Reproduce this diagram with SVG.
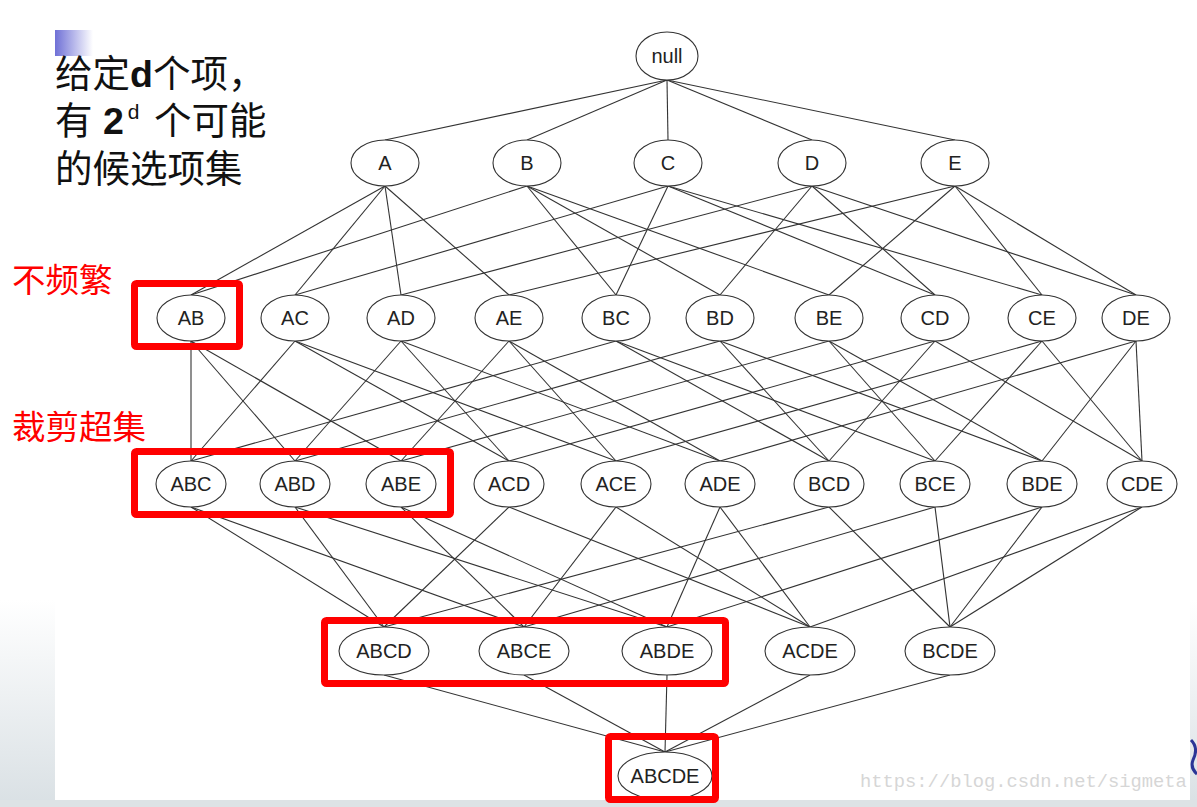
<svg xmlns="http://www.w3.org/2000/svg" width="1197" height="807" viewBox="0 0 1197 807">
<style>
.n ellipse{fill:#fff;stroke:#333;stroke-width:1.1}
.n text{font-family:"Liberation Sans",Arial,sans-serif;font-size:20px;fill:#222;text-anchor:middle;dominant-baseline:central}
#edges line{stroke:#333;stroke-width:1.1}
.box{fill:none;stroke:#ff0000;stroke-width:7;stroke-linejoin:round}
.red{font-family:"Liberation Sans","Noto Sans CJK SC",sans-serif;font-size:33.5px;fill:#ff0000}
.blk{font-family:"Liberation Sans","Noto Sans CJK SC",sans-serif;font-size:37.5px;fill:#111}
</style>
<defs>
<linearGradient id="gl" x1="0" y1="0" x2="0" y2="1"><stop offset="0" stop-color="#ffffff"/><stop offset="1" stop-color="#d9e0e4"/></linearGradient>
<linearGradient id="gb" x1="0" y1="0" x2="1" y2="0"><stop offset="0" stop-color="#6f70d6"/><stop offset="1" stop-color="#ffffff"/></linearGradient>
</defs>
<rect width="1197" height="807" fill="#fff"/>
<rect x="0" y="600" width="55" height="207" fill="url(#gl)"/>
<rect x="1190" y="600" width="7" height="207" fill="url(#gl)"/>
<rect x="0" y="800" width="1197" height="7" fill="#dde2e5"/>
<path d="M1191 740 Q1199 748 1193 760 Q1190 768 1197 774" fill="none" stroke="#2b3596" stroke-width="3"/>
<rect x="55" y="30" width="38" height="26" fill="url(#gb)"/>
<text class="blk" y="87"><tspan x="55">给定</tspan><tspan font-weight="bold">d</tspan><tspan>个项，</tspan></text>
<text class="blk" y="134"><tspan x="55">有 </tspan><tspan font-weight="bold">2</tspan><tspan font-size="21" dy="-15" dx="4">d</tspan><tspan x="154" dy="15">个可能</tspan></text>
<text class="blk" y="182" x="55">的候选项集</text>
<text class="red" x="12" y="292">不频繁</text>
<text class="red" x="12" y="439">裁剪超集</text>
<g id="edges">
<line x1="667" y1="80" x2="385" y2="140"/><line x1="667" y1="80" x2="527" y2="140"/><line x1="667" y1="80" x2="668" y2="140"/><line x1="667" y1="80" x2="812" y2="140"/><line x1="667" y1="80" x2="955" y2="140"/>
<line x1="385" y1="186" x2="191" y2="295"/><line x1="385" y1="186" x2="295" y2="295"/><line x1="385" y1="186" x2="401" y2="295"/><line x1="385" y1="186" x2="509" y2="295"/>
<line x1="527" y1="186" x2="191" y2="295"/><line x1="527" y1="186" x2="616" y2="295"/><line x1="527" y1="186" x2="720" y2="295"/><line x1="527" y1="186" x2="829" y2="295"/>
<line x1="668" y1="186" x2="295" y2="295"/><line x1="668" y1="186" x2="616" y2="295"/><line x1="668" y1="186" x2="935" y2="295"/><line x1="668" y1="186" x2="1042" y2="295"/>
<line x1="812" y1="186" x2="401" y2="295"/><line x1="812" y1="186" x2="720" y2="295"/><line x1="812" y1="186" x2="935" y2="295"/><line x1="812" y1="186" x2="1136" y2="295"/>
<line x1="955" y1="186" x2="509" y2="295"/><line x1="955" y1="186" x2="829" y2="295"/><line x1="955" y1="186" x2="1042" y2="295"/><line x1="955" y1="186" x2="1136" y2="295"/>
<line x1="191" y1="341" x2="191" y2="461"/><line x1="191" y1="341" x2="295" y2="461"/><line x1="191" y1="341" x2="401" y2="461"/>
<line x1="295" y1="341" x2="191" y2="461"/><line x1="295" y1="341" x2="509" y2="461"/><line x1="295" y1="341" x2="616" y2="461"/>
<line x1="401" y1="341" x2="295" y2="461"/><line x1="401" y1="341" x2="509" y2="461"/><line x1="401" y1="341" x2="720" y2="461"/>
<line x1="509" y1="341" x2="401" y2="461"/><line x1="509" y1="341" x2="616" y2="461"/><line x1="509" y1="341" x2="720" y2="461"/>
<line x1="616" y1="341" x2="191" y2="461"/><line x1="616" y1="341" x2="829" y2="461"/><line x1="616" y1="341" x2="935" y2="461"/>
<line x1="720" y1="341" x2="295" y2="461"/><line x1="720" y1="341" x2="829" y2="461"/><line x1="720" y1="341" x2="1042" y2="461"/>
<line x1="829" y1="341" x2="401" y2="461"/><line x1="829" y1="341" x2="935" y2="461"/><line x1="829" y1="341" x2="1042" y2="461"/>
<line x1="935" y1="341" x2="509" y2="461"/><line x1="935" y1="341" x2="829" y2="461"/><line x1="935" y1="341" x2="1142" y2="461"/>
<line x1="1042" y1="341" x2="616" y2="461"/><line x1="1042" y1="341" x2="935" y2="461"/><line x1="1042" y1="341" x2="1142" y2="461"/>
<line x1="1136" y1="341" x2="720" y2="461"/><line x1="1136" y1="341" x2="1042" y2="461"/><line x1="1136" y1="341" x2="1142" y2="461"/>
<line x1="191" y1="507" x2="384" y2="627"/><line x1="191" y1="507" x2="524" y2="627"/>
<line x1="295" y1="507" x2="384" y2="627"/><line x1="295" y1="507" x2="667" y2="627"/>
<line x1="401" y1="507" x2="524" y2="627"/><line x1="401" y1="507" x2="667" y2="627"/>
<line x1="509" y1="507" x2="384" y2="627"/><line x1="509" y1="507" x2="810" y2="627"/>
<line x1="616" y1="507" x2="524" y2="627"/><line x1="616" y1="507" x2="810" y2="627"/>
<line x1="720" y1="507" x2="667" y2="627"/><line x1="720" y1="507" x2="810" y2="627"/>
<line x1="829" y1="507" x2="384" y2="627"/><line x1="829" y1="507" x2="950" y2="627"/>
<line x1="935" y1="507" x2="524" y2="627"/><line x1="935" y1="507" x2="950" y2="627"/>
<line x1="1042" y1="507" x2="667" y2="627"/><line x1="1042" y1="507" x2="950" y2="627"/>
<line x1="1142" y1="507" x2="810" y2="627"/><line x1="1142" y1="507" x2="950" y2="627"/>
<line x1="384" y1="675" x2="665" y2="752"/><line x1="524" y1="675" x2="665" y2="752"/><line x1="667" y1="675" x2="665" y2="752"/><line x1="810" y1="675" x2="665" y2="752"/><line x1="950" y1="675" x2="665" y2="752"/>
</g>
<g id="null" class="n"><ellipse cx="667" cy="56" rx="31" ry="24"/><text x="667" y="56">null</text></g>
<g id="A" class="n"><ellipse cx="385" cy="163" rx="34" ry="23"/><text x="385" y="163">A</text></g>
<g id="B" class="n"><ellipse cx="527" cy="163" rx="34" ry="23"/><text x="527" y="163">B</text></g>
<g id="C" class="n"><ellipse cx="668" cy="163" rx="34" ry="23"/><text x="668" y="163">C</text></g>
<g id="D" class="n"><ellipse cx="812" cy="163" rx="34" ry="23"/><text x="812" y="163">D</text></g>
<g id="E" class="n"><ellipse cx="955" cy="163" rx="34" ry="23"/><text x="955" y="163">E</text></g>
<g id="AB" class="n"><ellipse cx="191" cy="318" rx="34" ry="23"/><text x="191" y="318">AB</text></g>
<g id="AC" class="n"><ellipse cx="295" cy="318" rx="34" ry="23"/><text x="295" y="318">AC</text></g>
<g id="AD" class="n"><ellipse cx="401" cy="318" rx="34" ry="23"/><text x="401" y="318">AD</text></g>
<g id="AE" class="n"><ellipse cx="509" cy="318" rx="34" ry="23"/><text x="509" y="318">AE</text></g>
<g id="BC" class="n"><ellipse cx="616" cy="318" rx="34" ry="23"/><text x="616" y="318">BC</text></g>
<g id="BD" class="n"><ellipse cx="720" cy="318" rx="34" ry="23"/><text x="720" y="318">BD</text></g>
<g id="BE" class="n"><ellipse cx="829" cy="318" rx="34" ry="23"/><text x="829" y="318">BE</text></g>
<g id="CD" class="n"><ellipse cx="935" cy="318" rx="34" ry="23"/><text x="935" y="318">CD</text></g>
<g id="CE" class="n"><ellipse cx="1042" cy="318" rx="34" ry="23"/><text x="1042" y="318">CE</text></g>
<g id="DE" class="n"><ellipse cx="1136" cy="318" rx="34" ry="23"/><text x="1136" y="318">DE</text></g>
<g id="ABC" class="n"><ellipse cx="191" cy="484" rx="35" ry="23"/><text x="191" y="484">ABC</text></g>
<g id="ABD" class="n"><ellipse cx="295" cy="484" rx="35" ry="23"/><text x="295" y="484">ABD</text></g>
<g id="ABE" class="n"><ellipse cx="401" cy="484" rx="35" ry="23"/><text x="401" y="484">ABE</text></g>
<g id="ACD" class="n"><ellipse cx="509" cy="484" rx="35" ry="23"/><text x="509" y="484">ACD</text></g>
<g id="ACE" class="n"><ellipse cx="616" cy="484" rx="35" ry="23"/><text x="616" y="484">ACE</text></g>
<g id="ADE" class="n"><ellipse cx="720" cy="484" rx="35" ry="23"/><text x="720" y="484">ADE</text></g>
<g id="BCD" class="n"><ellipse cx="829" cy="484" rx="35" ry="23"/><text x="829" y="484">BCD</text></g>
<g id="BCE" class="n"><ellipse cx="935" cy="484" rx="35" ry="23"/><text x="935" y="484">BCE</text></g>
<g id="BDE" class="n"><ellipse cx="1042" cy="484" rx="35" ry="23"/><text x="1042" y="484">BDE</text></g>
<g id="CDE" class="n"><ellipse cx="1142" cy="484" rx="35" ry="23"/><text x="1142" y="484">CDE</text></g>
<g id="ABCD" class="n"><ellipse cx="384" cy="651" rx="45" ry="24"/><text x="384" y="651">ABCD</text></g>
<g id="ABCE" class="n"><ellipse cx="524" cy="651" rx="45" ry="24"/><text x="524" y="651">ABCE</text></g>
<g id="ABDE" class="n"><ellipse cx="667" cy="651" rx="45" ry="24"/><text x="667" y="651">ABDE</text></g>
<g id="ACDE" class="n"><ellipse cx="810" cy="651" rx="45" ry="24"/><text x="810" y="651">ACDE</text></g>
<g id="BCDE" class="n"><ellipse cx="950" cy="651" rx="45" ry="24"/><text x="950" y="651">BCDE</text></g>
<g id="ABCDE" class="n"><ellipse cx="665" cy="776" rx="47" ry="24"/><text x="665" y="776">ABCDE</text></g>
<g id="boxes">
<rect class="box" x="134.5" y="283.5" width="105" height="63" rx="2"/>
<rect class="box" x="134.5" y="451.5" width="316" height="63" rx="2"/>
<rect class="box" x="324.5" y="620.5" width="401" height="63" rx="2"/>
<rect class="box" x="608.5" y="736.5" width="107" height="63" rx="2"/>
</g>
<text x="860" y="787" font-family="Liberation Mono,monospace" font-size="18.8" fill="#d6d6d6">https://blog.csdn.net/sigmeta</text>
</svg>
